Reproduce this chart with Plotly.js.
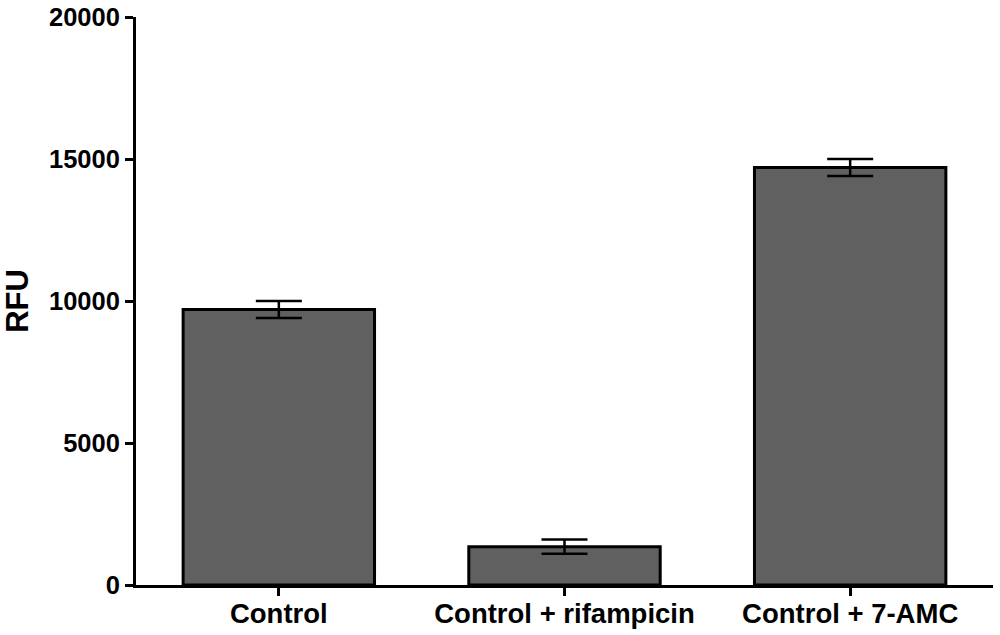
<!DOCTYPE html>
<html>
<head>
<meta charset="utf-8">
<script src="https://cdn.plot.ly/plotly-3.0.1.min.js"></script>
<style>html,body{margin:0;padding:0;background:#fff;}#chart{width:1000px;height:635px;}</style>
</head>
<body>
<div id="chart"></div>
<script>
const categories = ["Control", "Control + rifampicin", "Control + 7-AMC"];
const rfuValues = [9700, 1350, 14700];
const rfuErrors = [300, 250, 300];
const yTickValues = [0, 5000, 10000, 15000, 20000];
const yTickLabels = ["0", "5000", "10000", "15000", "20000"];

const trace = {
  type: "bar",
  x: categories,
  y: rfuValues,
  width: 0.67,
  marker: {color: "#606060", line: {color: "#000", width: 3}},
  error_y: {type: "data", array: rfuErrors, visible: true, color: "#000", thickness: 2.5, width: 23}
};

const layout = {
  width: 1000, height: 635,
  margin: {l: 136, r: 7, t: 17, b: 50},
  paper_bgcolor: "#fff", plot_bgcolor: "#fff",
  showlegend: false,
  font: {family: "Liberation Sans, Arial, sans-serif", color: "#000"},
  xaxis: {
    range: [-0.5, 2.5],
    showline: true, linecolor: "#000", linewidth: 3,
    ticks: "outside", ticklen: 8, tickwidth: 3, tickcolor: "#000",
    tickfont: {size: 27.5, family: "Liberation Sans, Arial, sans-serif", weight: "bold"},
    ticklabelstandoff: -6,
    showgrid: false, zeroline: false
  },
  yaxis: {
    range: [0, 20000],
    tickvals: yTickValues, ticktext: yTickLabels,
    showline: true, linecolor: "#000", linewidth: 3,
    ticks: "outside", ticklen: 8, tickwidth: 3, tickcolor: "#000",
    tickfont: {size: 25.5, family: "Liberation Sans, Arial, sans-serif", weight: "bold"},
    showgrid: false, zeroline: false,
    title: {text: "<b>RFU</b>", font: {size: 31, family: "Liberation Sans, Arial, sans-serif"}, standoff: 14}
  }
};

Plotly.newPlot("chart", [trace], layout, {displayModeBar: false, staticPlot: true});
</script>
</body>
</html>
